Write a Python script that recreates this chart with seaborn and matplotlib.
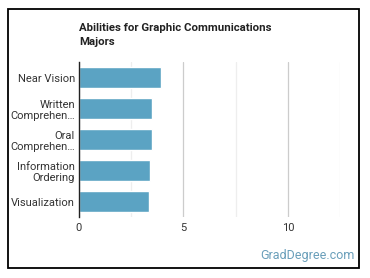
import pandas as pd
import matplotlib.pyplot as plt
import matplotlib.patches as mpatches
from matplotlib.ticker import MultipleLocator
import seaborn as sns

abilities = ["Near Vision", "Written\nComprehen\u2026", "Oral\nComprehen\u2026",
             "Information\nOrdering", "Visualization"]
scores = [3.92, 3.5, 3.5, 3.41, 3.36]

sns.set_theme(style="white")
plt.rcParams['font.family'] = ['Roboto', 'DejaVu Sans']

df = pd.DataFrame({"ability": abilities, "score": scores})

fig = plt.figure(figsize=(3.7, 2.78), dpi=100)
ax = fig.add_axes([79 / 370, 61 / 278, 261 / 370, 155 / 278])

sns.barplot(data=df, x="score", y="ability", orient="h", color="#5ba3c3",
            saturation=1, width=0.65, ax=ax)

ax.set_xlim(0, 12.5)
ax.xaxis.set_major_locator(MultipleLocator(5))
ax.xaxis.set_minor_locator(MultipleLocator(2.5))
ax.grid(True, which="major", axis="x", color="#cccccc", linewidth=0.9)
ax.grid(True, which="minor", axis="x", color="#eeeeee", linewidth=0.9)
ax.set_axisbelow(True)
for s in ["top", "right", "bottom"]:
    ax.spines[s].set_visible(False)
ax.spines["left"].set_color("#222222")
ax.spines["left"].set_linewidth(1)
ax.set_xlabel("")
ax.set_ylabel("")
ax.tick_params(axis="both", which="both", length=0, labelsize=8, colors="#333333")
ax.tick_params(axis="x", pad=4)
ax.tick_params(axis="y", pad=3)
for lbl in ax.get_yticklabels():
    lbl.set_linespacing(1.2)

fig.text(79 / 370, 1 - 23 / 278, "Abilities for Graphic Communications\nMajors",
         fontsize=8.2, fontweight="bold", color="#222222", linespacing=1.45, va="top")
fig.text(355 / 370, 1 - 255 / 278, "GradDegree.com", fontsize=9, color="#6a9fba",
         ha="right", va="center")

fig.patches.append(mpatches.Rectangle((7.5 / 370, 1 - 268 / 278), 351.5 / 370, 259 / 278,
                                      transform=fig.transFigure, fill=False,
                                      edgecolor="black", linewidth=1.3))

fig.savefig("out.png", dpi=100)
